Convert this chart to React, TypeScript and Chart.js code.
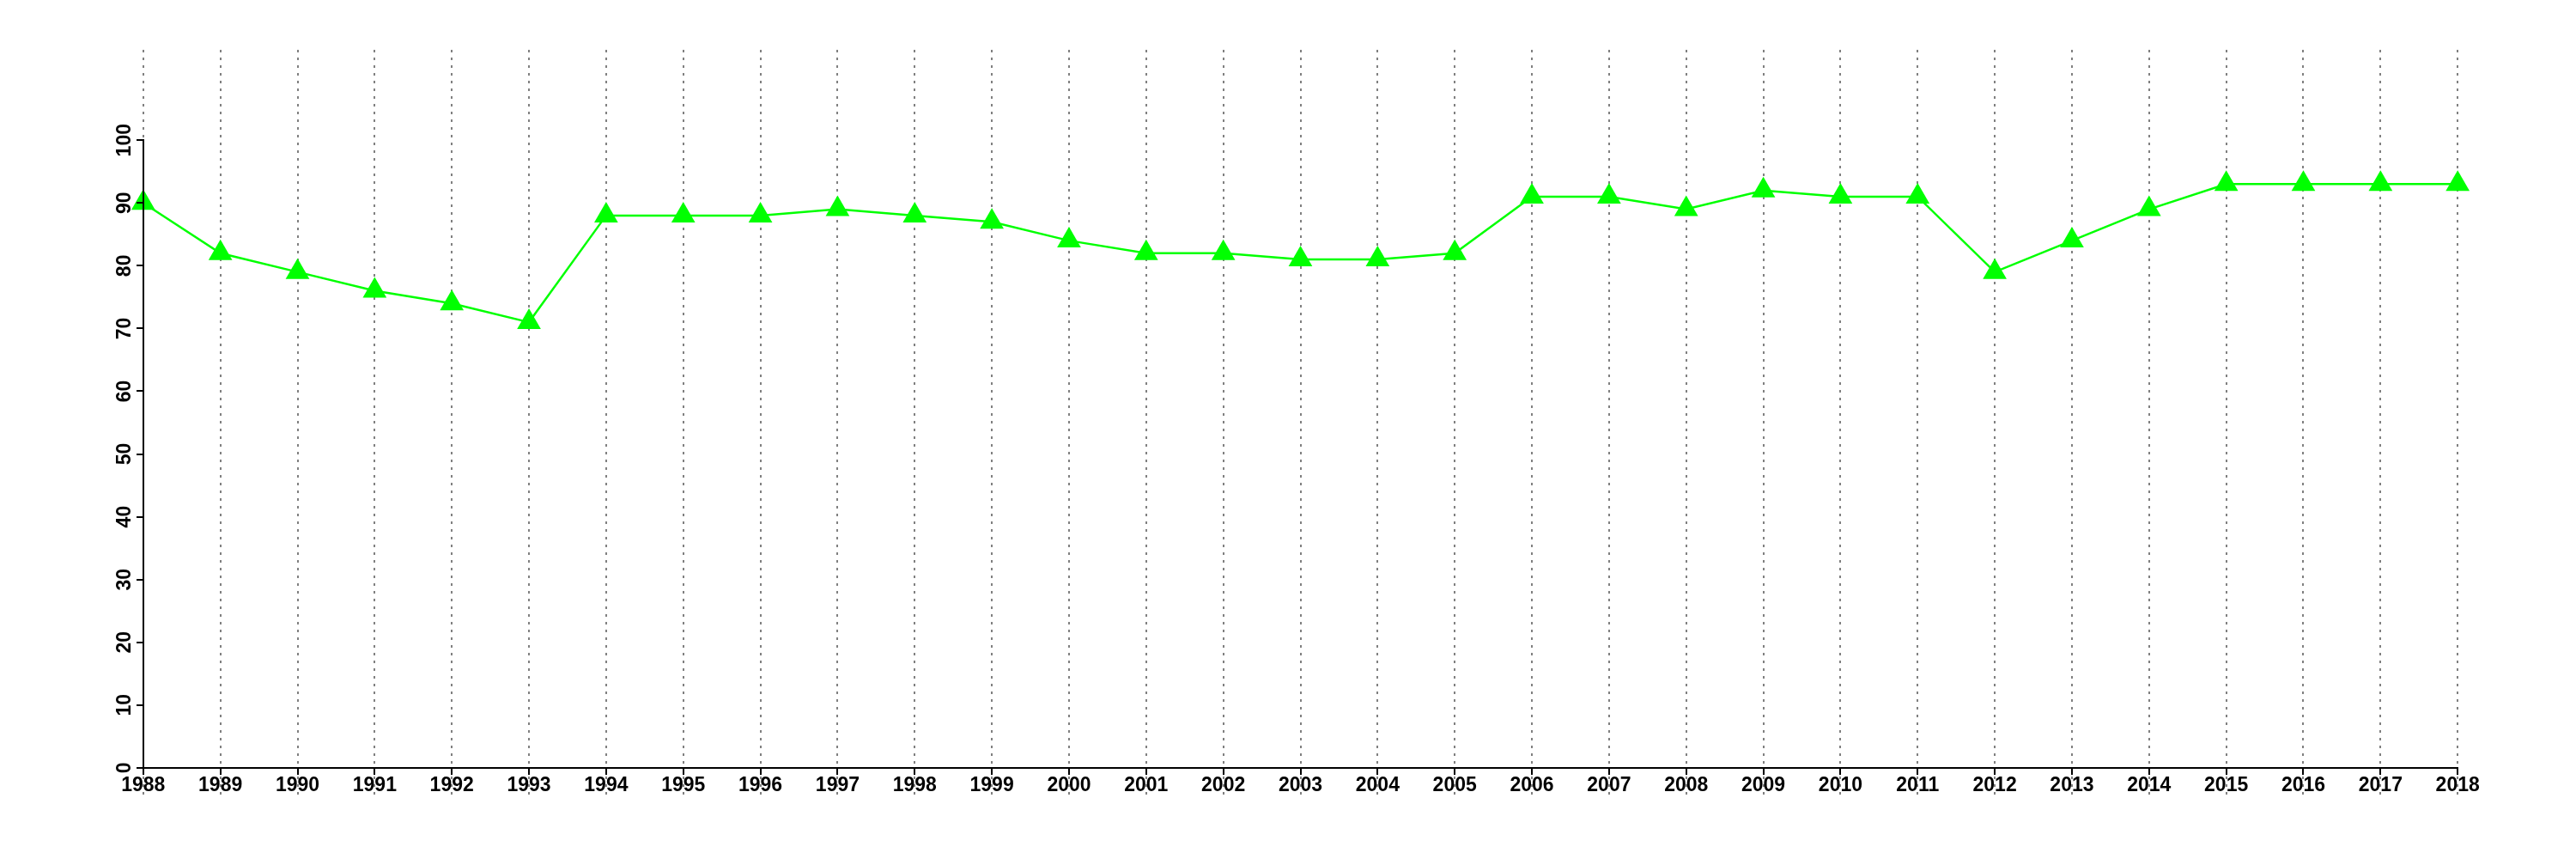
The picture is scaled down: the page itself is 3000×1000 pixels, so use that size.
import React, { useEffect, useRef } from 'react';
import { Chart, registerables } from 'chart.js';

Chart.register(...registerables);

const years: number[] = [
  1988, 1989, 1990, 1991, 1992, 1993, 1994, 1995, 1996, 1997, 1998, 1999, 2000, 2001, 2002, 2003,
  2004, 2005, 2006, 2007, 2008, 2009, 2010, 2011, 2012, 2013, 2014, 2015, 2016, 2017, 2018,
];
const values: number[] = [
  90, 82, 79, 76, 74, 71, 88, 88, 88, 89, 88, 87, 84, 82, 82, 81,
  81, 82, 91, 91, 89, 92, 91, 91, 79, 84, 89, 93, 93, 93, 93,
];
const yTickValues: number[] = [0, 10, 20, 30, 40, 50, 60, 70, 80, 90, 100];
const xTickValues: number[] = years;

const X_MIN = 1986.8;
const X_MAX = 2019.2;
const Y_MIN = -4.4;
const Y_MAX = 114.4;

const FONT = 'bold 23px "Liberation Sans", Arial, Helvetica, sans-serif';

const rAxesPlugin = {
  id: 'rAxes',
  beforeDatasetsDraw(chart: any) {
    const { ctx, chartArea, scales } = chart;
    const xs = scales.x;
    ctx.save();
    ctx.strokeStyle = '#808080';
    ctx.lineWidth = 2;
    ctx.setLineDash([3, 6]);
    for (const v of xTickValues) {
      const px = Math.round(xs.getPixelForValue(v));
      ctx.beginPath();
      ctx.moveTo(px, chartArea.top);
      ctx.lineTo(px, chartArea.bottom);
      ctx.stroke();
    }
    ctx.restore();
  },
  afterDatasetsDraw(chart: any) {
    const { ctx, scales } = chart;
    const xs = scales.x;
    const ys = scales.y;
    const x0 = Math.round(xs.getPixelForValue(xTickValues[0]));
    const x1 = Math.round(xs.getPixelForValue(xTickValues[xTickValues.length - 1]));
    const y0 = Math.round(ys.getPixelForValue(yTickValues[0]));
    const y1 = Math.round(ys.getPixelForValue(yTickValues[yTickValues.length - 1]));
    ctx.save();
    ctx.setLineDash([]);
    ctx.strokeStyle = '#000';
    ctx.lineWidth = 2;
    ctx.lineCap = 'square';
    // x axis
    ctx.beginPath();
    ctx.moveTo(x0, y0);
    ctx.lineTo(x1, y0);
    for (const v of xTickValues) {
      const px = Math.round(xs.getPixelForValue(v));
      ctx.moveTo(px, y0);
      ctx.lineTo(px, y0 + 7);
    }
    ctx.stroke();
    // y axis
    ctx.beginPath();
    ctx.moveTo(x0, y0);
    ctx.lineTo(x0, y1);
    for (const v of yTickValues) {
      const py = Math.round(ys.getPixelForValue(v));
      ctx.moveTo(x0, py);
      ctx.lineTo(x0 - 7, py);
    }
    ctx.stroke();
    // labels
    ctx.fillStyle = '#000';
    ctx.font = FONT;
    ctx.textAlign = 'center';
    ctx.textBaseline = 'alphabetic';
    for (const v of xTickValues) {
      const px = xs.getPixelForValue(v);
      ctx.fillText(String(v), px, y0 + 27);
    }
    for (const v of yTickValues) {
      const py = ys.getPixelForValue(v);
      ctx.save();
      ctx.translate(x0 - 15, py);
      ctx.rotate(-Math.PI / 2);
      ctx.fillText(String(v), 0, 0);
      ctx.restore();
    }
    ctx.restore();
  },
};

export default function App() {
  const canvasRef = useRef<HTMLCanvasElement | null>(null);

  useEffect(() => {
    const canvas = canvasRef.current;
    if (!canvas) return;
    const chart = new Chart(canvas, {
      type: 'line',
      data: {
        datasets: [
          {
            data: years.map((yr, i) => ({ x: yr, y: values[i] })),
            borderColor: '#00ff00',
            borderWidth: 2.5,
            backgroundColor: '#00ff00',
            pointStyle: 'triangle',
            pointRadius: 16,
            pointBackgroundColor: '#00ff00',
            pointBorderWidth: 0,
            pointBorderColor: '#00ff00',
            fill: false,
            tension: 0,
          },
        ],
      },
      options: {
        animation: false,
        responsive: false,
        devicePixelRatio: 1,
        layout: { padding: { left: 59, right: 30, top: 58, bottom: 74 } },
        plugins: { legend: { display: false }, tooltip: { enabled: false } },
        scales: {
          x: { type: 'linear', min: X_MIN, max: X_MAX, display: false },
          y: { type: 'linear', min: Y_MIN, max: Y_MAX, display: false },
        },
      },
      plugins: [rAxesPlugin],
    });
    return () => chart.destroy();
  }, []);

  return (
    <div style={{ position: 'absolute', left: 0, top: 0, width: 3000, height: 1000, background: '#fff' }}>
      <canvas ref={canvasRef} width={3000} height={1000} style={{ width: 3000, height: 1000 }} />
    </div>
  );
}
